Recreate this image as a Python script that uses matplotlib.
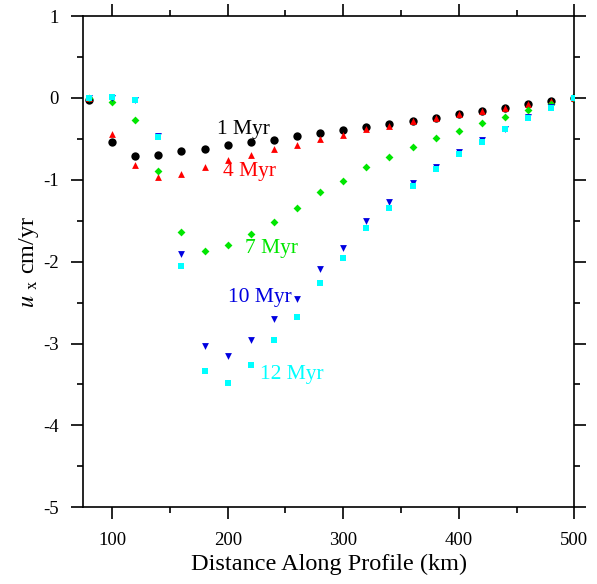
import matplotlib
matplotlib.use("Agg")
import matplotlib.pyplot as plt
from matplotlib.ticker import MultipleLocator

plt.rcParams["font.family"] = ["Liberation Serif", "DejaVu Serif"]
plt.rcParams["mathtext.fontset"] = "stix"
plt.rcParams["axes.unicode_minus"] = False

# distance along profile (km)
distance = [80, 100, 120, 140, 160, 180, 200, 220, 240, 260, 280,
            300, 320, 340, 360, 380, 400, 420, 440, 460, 480, 500]

# u_x (cm/yr) at each time step
ux_1myr = [-0.02, -0.54, -0.71, -0.70, -0.65, -0.62, -0.58, -0.54, -0.51, -0.47, -0.43,
           -0.39, -0.35, -0.32, -0.28, -0.24, -0.20, -0.16, -0.12, -0.08, -0.04, 0.0]
ux_4myr = [0.0, -0.44, -0.82, -0.97, -0.93, -0.85, -0.76, -0.70, -0.62, -0.57, -0.50,
           -0.45, -0.38, -0.34, -0.28, -0.24, -0.20, -0.16, -0.12, -0.08, -0.04, 0.0]
ux_7myr = [0.0, -0.05, -0.27, -0.89, -1.64, -1.87, -1.80, -1.66, -1.51, -1.34, -1.15,
           -1.01, -0.84, -0.72, -0.60, -0.49, -0.40, -0.31, -0.23, -0.15, -0.07, 0.0]
ux_10myr = [0.0, 0.0, -0.02, -0.47, -1.91, -3.03, -3.15, -2.96, -2.70, -2.45, -2.09,
            -1.83, -1.50, -1.27, -1.04, -0.85, -0.66, -0.52, -0.38, -0.23, -0.11, 0.0]
ux_12myr = [0.0, 0.01, -0.02, -0.48, -2.05, -3.34, -3.48, -3.26, -2.96, -2.67, -2.26,
            -1.96, -1.59, -1.34, -1.08, -0.87, -0.68, -0.54, -0.38, -0.25, -0.12, 0.0]

labels = ["1 Myr", "4 Myr", "7 Myr", "10 Myr", "12 Myr"]
label_pos = [(190.5, -0.39), (196, -0.905), (215, -1.845), (200.5, -2.44), (228, -3.38)]

fig = plt.figure(figsize=(5.97, 5.84), dpi=100)
ax = fig.add_axes([0.1395, 0.1313, 0.8225, 0.8413])

series = [
    (ux_1myr, "o", "black", 36),
    (ux_4myr, "^", "#ff0000", 24),
    (ux_7myr, "D", "#00e600", 16),
    (ux_10myr, "v", "#0000e0", 24),
    (ux_12myr, "s", "#00ffff", 16),
]
for ys, mk, col, sz in series:
    ax.scatter(distance, ys, marker=mk, s=sz, color=col, linewidths=0, zorder=3)

for (txt, (tx, ty)), (_, _, col, _) in zip(zip(labels, label_pos), series):
    ax.text(tx, ty, txt, color=col, fontsize=15.5, ha="left", va="center", zorder=4)

ax.set_xlim(75, 500)
ax.set_ylim(-5, 1)
ax.xaxis.set_major_locator(MultipleLocator(100))
ax.xaxis.set_minor_locator(MultipleLocator(50))
ax.yaxis.set_major_locator(MultipleLocator(1))
ax.yaxis.set_minor_locator(MultipleLocator(0.5))
ax.tick_params(which="both", direction="out", top=True, right=True,
               width=1.2, labelsize=13.5, pad=9)
ax.tick_params(which="major", length=8.5)
ax.tick_params(which="minor", length=4.5)
for sp in ax.spines.values():
    sp.set_linewidth(1.2)

ax.set_xlabel("Distance Along Profile (km)", fontsize=17.5, labelpad=4)
ax.set_ylabel(r"$u$ $_{\mathrm{x}}$ cm/yr", fontsize=17.5, labelpad=2)

fig.savefig("out.png", dpi=100)
